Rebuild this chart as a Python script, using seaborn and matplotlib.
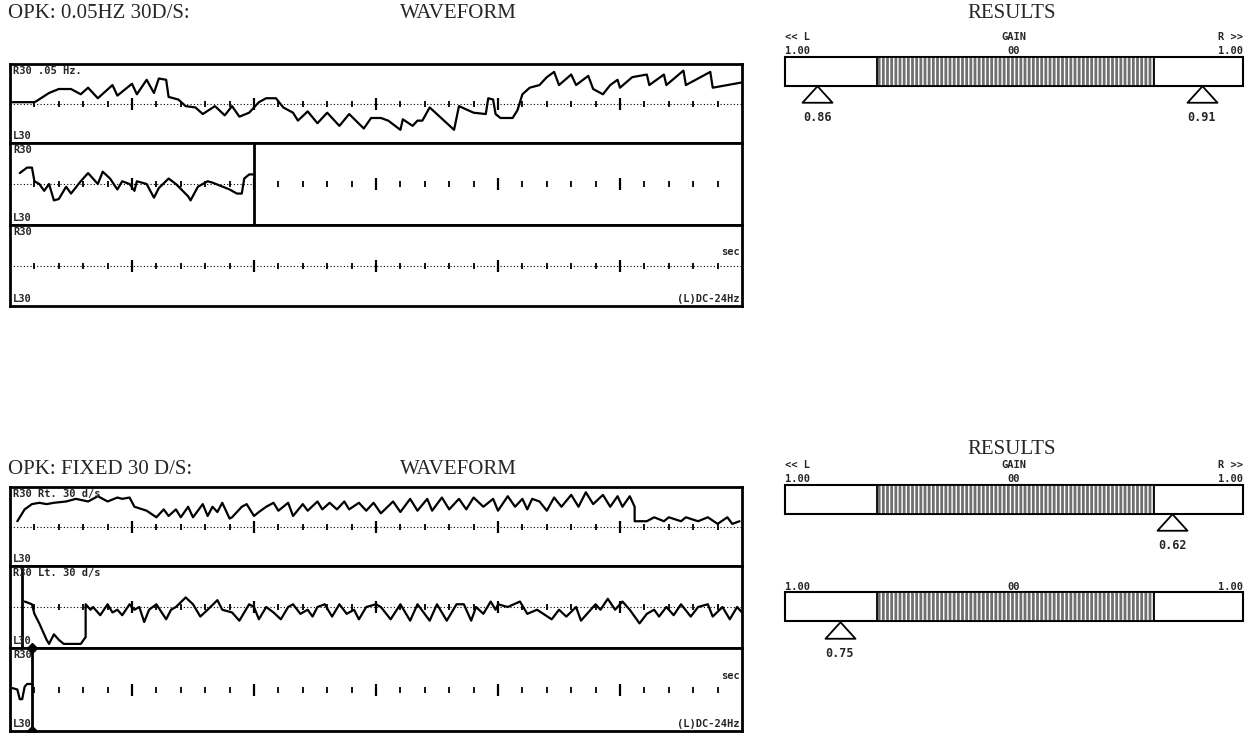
import numpy as np
import pandas as pd
import matplotlib.pyplot as plt
from matplotlib.path import Path
import seaborn as sns

# eye position traces: (time s, position deg, + = right)
top_trace_1 = [(0.0, 1), (1.0, 1), (1.1, 2), (1.6, 8), (2.0, 11), (2.5, 11), (2.9, 7), (3.2, 12), (3.6, 4),
               (4.2, 14), (4.4, 6), (5.0, 15), (5.2, 7), (5.6, 18), (5.9, 8), (6.1, 19), (6.4, 18), (6.5, 5),
               (6.9, 3), (7.2, -2), (7.6, -3), (7.9, -8), (8.4, -2), (8.8, -9), (9.1, -2), (9.4, -10),
               (9.8, -7), (10.2, 1), (10.5, 4), (10.9, 4), (11.2, -3), (11.6, -7), (11.8, -13), (12.2, -6),
               (12.6, -15), (13.0, -7), (13.5, -17), (13.9, -8), (14.5, -19), (14.8, -11), (15.2, -11),
               (15.5, -13), (16.0, -20), (16.1, -12), (16.5, -17), (16.7, -13), (16.9, -13), (17.2, -3),
               (18.2, -20), (18.4, -2), (19.0, -7), (19.5, -8), (19.6, 4), (19.8, 3), (19.9, -8), (20.1, -11),
               (20.6, -11), (20.8, -5), (21.0, 7), (21.3, 12), (21.7, 14), (22.0, 20), (22.3, 24), (22.5, 14),
               (23.0, 22), (23.2, 14), (23.7, 21), (23.9, 11), (24.3, 7), (24.6, 14), (24.9, 18), (25.0, 12),
               (25.5, 20), (26.1, 22), (26.2, 14), (26.8, 22), (26.9, 14), (27.6, 25), (27.7, 14), (28.7, 24),
               (28.8, 12), (29.4, 14), (30.0, 16)]
top_trace_2 = [(0.4, 8), (0.7, 12), (0.9, 12), (1.0, 2), (1.2, 0), (1.4, -5), (1.6, 0), (1.8, -12), (2.0, -11),
               (2.3, -2), (2.5, -7), (2.9, 2), (3.2, 8), (3.5, 2), (3.6, 0), (3.8, 9), (4.1, 4), (4.4, -4),
               (4.6, 2), (4.9, 0), (5.1, -5), (5.2, 2), (5.6, 0), (5.9, -10), (6.1, -3), (6.5, 4), (6.8, 0),
               (7.3, -9), (7.4, -12), (7.7, -2), (8.1, 2), (8.3, 1), (9.0, -4), (9.3, -7), (9.5, -7), (9.6, 4),
               (9.8, 7), (10.0, 7)]
low_trace_1 = [(0.3, 4), (0.5, 10), (0.6, 13), (0.9, 17), (1.2, 18), (1.5, 17), (1.8, 18), (2.3, 19), (2.7, 21),
               (3.2, 19), (3.6, 23), (4.0, 19), (4.4, 22), (4.6, 21), (4.9, 22), (5.1, 15), (5.6, 12), (6.0, 7),
               (6.3, 13), (6.5, 8), (6.8, 13), (7.0, 7), (7.3, 15), (7.5, 7), (7.9, 17), (8.1, 8), (8.3, 15),
               (8.5, 11), (8.7, 18), (9.0, 6), (9.1, 7), (9.5, 15), (9.7, 17), (10.0, 8), (10.2, 11), (10.5, 15),
               (10.8, 18), (11.0, 12), (11.4, 18), (11.6, 8), (12.0, 17), (12.2, 12), (12.6, 19), (12.8, 13),
               (13.1, 18), (13.4, 13), (13.7, 19), (13.9, 13), (14.3, 18), (14.6, 12), (14.9, 18), (15.2, 10),
               (15.7, 19), (16.0, 11), (16.4, 21), (16.7, 12), (17.1, 21), (17.3, 12), (17.7, 22), (18.0, 13),
               (18.4, 21), (18.7, 13), (19.0, 22), (19.4, 15), (19.8, 21), (20.0, 12), (20.4, 23), (20.7, 15),
               (21.0, 21), (21.2, 13), (21.4, 21), (21.7, 19), (22.0, 12), (22.3, 22), (22.6, 15), (23.0, 24),
               (23.3, 15), (23.6, 26), (23.9, 17), (24.3, 24), (24.6, 15), (24.9, 23), (25.1, 15), (25.4, 23),
               (25.6, 15), (25.6, 4), (25.7, 4), (26.1, 4), (26.4, 7), (26.8, 4), (27.0, 7), (27.5, 4), (27.7, 7),
               (28.2, 4), (28.6, 7), (29.0, 2), (29.4, 7), (29.6, 2), (29.9, 4)]
low_trace_2 = [(0.6, 4), (0.9, 2), (1.0, -5), (1.2, -12), (1.4, -20), (1.5, -24), (1.6, -27), (1.8, -20), (2.0, -24),
               (2.2, -27), (2.9, -27), (3.1, -22), (3.1, 2), (3.3, -2), (3.4, 0), (3.7, -6), (4.0, 2), (4.2, -4),
               (4.4, -2), (4.6, -6), (4.9, 2), (5.1, -2), (5.3, 0), (5.5, -11), (5.7, -2), (6.0, 2), (6.4, -9),
               (6.6, -2), (6.8, 0), (7.2, 7), (7.5, 2), (7.8, -7), (8.1, -2), (8.5, 5), (8.7, -2), (9.1, -4),
               (9.4, -10), (9.8, 2), (10.0, 0), (10.2, -9), (10.5, 0), (10.8, -4), (11.1, -9), (11.4, 0), (11.6, 2),
               (11.9, -5), (12.2, -2), (12.4, -7), (12.6, 0), (12.9, 2), (13.2, -7), (13.5, 2), (13.8, -5),
               (14.1, -2), (14.3, -9), (14.6, 0), (15.0, 2), (15.2, 0), (15.6, -9), (16.0, 2), (16.4, -10),
               (16.7, 2), (17.2, -10), (17.5, 2), (17.9, -10), (18.3, 2), (18.6, 2), (18.9, -10), (19.1, 0),
               (19.4, -5), (19.7, 4), (19.9, -2), (20.0, 2), (20.4, 0), (20.9, 4), (21.2, -5), (21.6, -2),
               (22.2, -9), (22.5, -2), (22.8, -7), (23.2, 0), (23.4, -10), (23.8, -2), (24.0, 2), (24.2, -2),
               (24.5, 6), (24.8, -2), (25.1, 4), (25.4, -2), (25.8, -12), (26.1, -5), (26.4, -2), (26.6, -7),
               (26.9, 0), (27.2, -6), (27.5, 2), (27.9, -7), (28.2, 0), (28.6, 2), (28.8, -7), (29.2, 0),
               (29.5, -9), (29.8, 0), (30.0, -4)]
low_trace_3 = [(0.1, 1), (0.3, 0), (0.4, -7), (0.5, -7), (0.6, 2), (0.7, 4), (0.9, 4)]

top_end_2 = 10.0   # trace stops, vertical marker
low_end_2 = 0.5
low_end_3 = 0.9

top_tags = ["R30 .05 Hz.", "R30", "R30"]
low_tags = ["R30 Rt. 30 d/s", "R30 Lt. 30 d/s", "R30"]

# gain bars: marker position on the bar (-1 = L 1.00 end, +1 = R 1.00 end) and printed gain
norm_range = (-0.60, 0.61)
res_top_pos, res_top_lab = [-0.86, 0.82], ["0.86", "0.91"]
res_low1_pos, res_low1_lab = [0.69], ["0.62"]
res_low2_pos, res_low2_lab = [-0.76], ["0.75"]

sns.set_style("white")
plt.rcParams["font.family"] = ["DejaVu Sans"]
plt.rcParams["hatch.linewidth"] = 1.0

W, H = 1255, 733
fig = plt.figure(figsize=(W / 100, H / 100), dpi=100)


def px_axes(x0, y0, x1, y1):
    return fig.add_axes([x0 / W, 1 - y1 / H, (x1 - x0) / W, (y1 - y0) / H])


serif = dict(family="Liberation Serif", size=15)
mono = dict(family="DejaVu Sans Mono", weight="bold", size=7.5)
mono_val = dict(family="DejaVu Sans Mono", weight="bold", size=8.5)

sec = np.arange(1, 30)
big = sec % 5 == 0


def wave_panel(y0, y1, tag, trace=None, line_to=30, cut=None, right_text=False):
    ax = px_axes(10, y0, 742, y1)
    ax.set_xlim(0, 30)
    ax.set_ylim(-30, 30)
    if line_to:
        ax.plot([0, line_to], [0, 0], ls=(0, (1, 2)), lw=0.8, color="black")
    ax.plot(sec[~big], np.zeros((~big).sum()), "|", ms=4, mew=1.3, color="black")
    ax.plot(sec[big], np.zeros(big.sum()), "|", ms=9, mew=1.6, color="black")
    if trace:
        df = pd.DataFrame(trace, columns=["t", "deg"])
        sns.lineplot(data=df, x="t", y="deg", ax=ax, color="black", lw=1.6, sort=False, estimator=None)
    if cut is not None:
        ax.axvline(cut, color="black", lw=2)
    ax.set_xticks([])
    ax.set_yticks([])
    ax.set_xlabel("")
    ax.set_ylabel("")
    for sp in ax.spines.values():
        sp.set_linewidth(2)
        sp.set_color("black")
    ax.text(0.004, 0.97, tag, transform=ax.transAxes, ha="left", va="top", **mono)
    ax.text(0.004, 0.03, "L30", transform=ax.transAxes, ha="left", va="bottom", **mono)
    if right_text:
        ax.text(0.997, 0.6, "sec", transform=ax.transAxes, ha="right", va="bottom", **mono)
        ax.text(0.997, 0.03, "(L)DC-24Hz", transform=ax.transAxes, ha="right", va="bottom", **mono)
    return ax


# ---- top block: 0.05 Hz ----
fig.text(8 / W, 1 - 14 / H, "OPK: 0.05HZ 30D/S:", ha="left", va="center", **serif)
fig.text(458 / W, 1 - 14 / H, "WAVEFORM", ha="center", va="center", **serif)
fig.text(1012 / W, 1 - 14 / H, "RESULTS", ha="center", va="center", **serif)
wave_panel(64, 143, top_tags[0], top_trace_1)
wave_panel(143, 225, top_tags[1], top_trace_2, line_to=top_end_2, cut=top_end_2)
wave_panel(225, 306, top_tags[2], right_text=True)

# ---- lower block: fixed 30 d/s ----
fig.text(8 / W, 1 - 469 / H, "OPK: FIXED 30 D/S:", ha="left", va="center", **serif)
fig.text(458 / W, 1 - 469 / H, "WAVEFORM", ha="center", va="center", **serif)
fig.text(1012 / W, 1 - 450 / H, "RESULTS", ha="center", va="center", **serif)
wave_panel(487, 566, low_tags[0], low_trace_1)
wave_panel(566, 648, low_tags[1], low_trace_2, cut=low_end_2)
ax3 = wave_panel(648, 731, low_tags[2], low_trace_3, line_to=0, right_text=True)
ax3.plot([low_end_3, low_end_3], [30, -30], color="black", lw=2, marker="D", ms=5, clip_on=False)

# ---- gain bars ----
PXU = 29
tri = Path([(0, 0.55), (-1, -0.55), (1, -0.55), (0, 0.55)],
           [Path.MOVETO, Path.LINETO, Path.LINETO, Path.CLOSEPOLY])


def result_bar(yc, pos, labs, heads=True):
    ax = px_axes(785, yc - 1.8 * PXU, 1243, yc + 2.2 * PXU)
    ax.set_xlim(-1, 1)
    ax.set_ylim(-2.2, 1.8)
    ax.axis("off")
    ax.barh(0, 2, left=-1, height=1, color="white", edgecolor="black", lw=1.5, clip_on=False)
    lo, hi = norm_range
    ax.barh(0, hi - lo, left=lo, height=1, color="#707070", hatch="||||", edgecolor="white", lw=0)
    ax.barh(0, hi - lo, left=lo, height=1, fill=False, edgecolor="black", lw=1.3)
    sns.scatterplot(x=pos, y=[-0.79] * len(pos), ax=ax, marker=tri, s=467, color="white",
                    edgecolor="black", linewidth=1.3, clip_on=False, legend=False)
    for p, lab in zip(pos, labs):
        ax.text(p, -1.6, lab, ha="center", va="center", **mono_val)
    if heads:
        ax.text(-1, 1.0, "<< L", ha="left", va="bottom", **mono)
        ax.text(0, 1.0, "GAIN", ha="center", va="bottom", **mono)
        ax.text(1, 1.0, "R >>", ha="right", va="bottom", **mono)
    ax.text(-1, 0.52, "1.00", ha="left", va="bottom", **mono)
    ax.text(0, 0.52, "00", ha="center", va="bottom", **mono)
    ax.text(1, 0.52, "1.00", ha="right", va="bottom", **mono)


result_bar(71, res_top_pos, res_top_lab)
result_bar(499, res_low1_pos, res_low1_lab)
result_bar(607, res_low2_pos, res_low2_lab, heads=False)

fig.savefig("out.png", dpi=100, facecolor="white")
